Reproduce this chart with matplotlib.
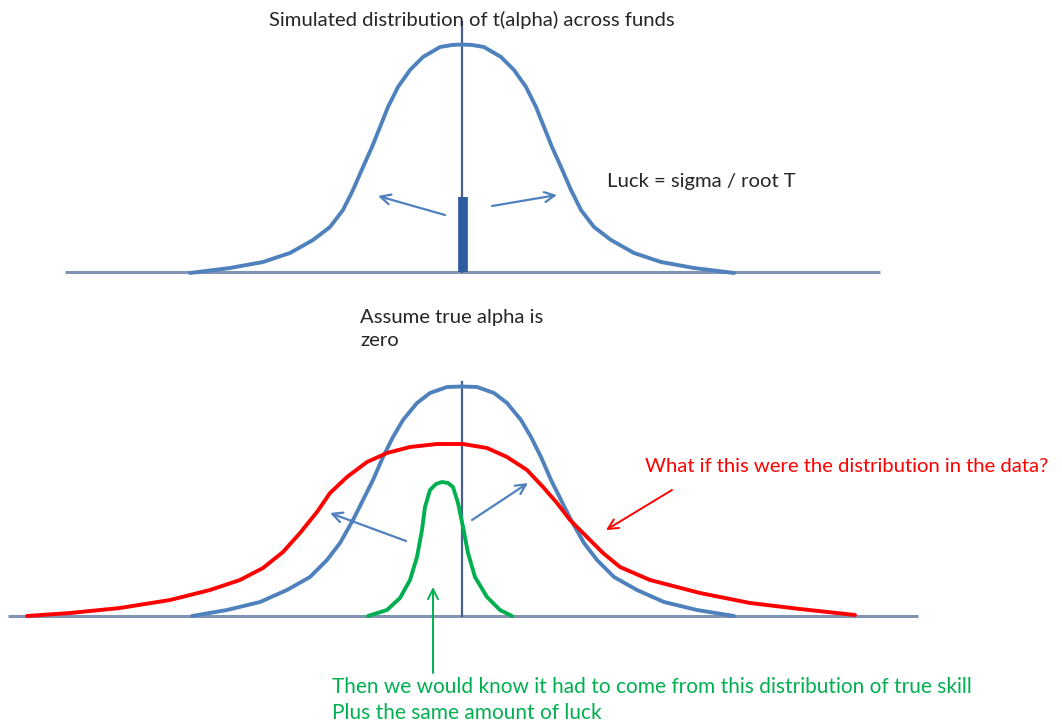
import matplotlib
matplotlib.use("Agg")
import matplotlib.pyplot as plt

W, H = 1062, 726

# Curves (pixel coordinates: x right, y down)
top_blue_x = [190, 230, 263, 290, 313, 330, 343, 353, 363, 372, 380, 388, 398, 410, 423, 440, 452, 462,
              472, 484, 501, 514, 526, 536, 544, 552, 561, 571, 581, 594, 611, 634, 661, 694, 734]
top_blue_y = [273, 268, 262, 253, 240, 227, 210, 190, 167, 147, 127, 107, 87, 70, 57, 47, 45, 44.5,
              45, 47, 57, 70, 87, 107, 127, 147, 167, 190, 210, 227, 240, 253, 262, 268, 273]

bot_blue_x = [192, 227, 260, 287, 310, 327, 340, 353, 363, 373, 383, 393, 403, 417, 430, 447, 462,
              477, 494, 507, 521, 531, 541, 551, 561, 571, 584, 597, 614, 637, 664, 697, 734]
bot_blue_y = [616, 610, 602, 590, 577, 560, 543, 520, 500, 480, 457, 437, 420, 403, 393, 387, 386.5,
              387, 393, 403, 420, 437, 457, 480, 500, 520, 543, 560, 577, 590, 602, 610, 616]

red_x = [27, 70, 120, 170, 210, 240, 263, 283, 300, 317, 330, 347, 367, 387, 410, 437, 463,
         487, 507, 527, 543, 557, 570, 587, 603, 620, 650, 700, 750, 800, 855]
red_y = [616, 613, 608, 600, 590, 580, 568, 552, 533, 512, 493, 477, 462, 453, 447, 444, 444,
         448, 457, 470, 487, 503, 520, 537, 553, 567, 580, 593, 603, 609, 615]

green_x = [368, 387, 400, 410, 417, 422, 425, 430, 436, 442, 448, 453, 458, 463, 468, 475, 487, 500, 512]
green_y = [616, 610, 598, 580, 557, 530, 507, 490, 484, 482, 483, 487, 503, 527, 553, 577, 597, 610, 616]

# Annotation texts
title_top = "Simulated distribution of t(alpha) across funds"
luck_text = "Luck = sigma / root T"
assume_text = "Assume true alpha is\nzero"
red_text = "What if this were the distribution in the data?"
green_text = "Then we would know it had to come from this distribution of true skill\nPlus the same amount of luck"

BLUE = "#4F81BD"
AXIS = "#8293B3"
VLINE = "#4A5F8C"
RED = "#FF0000"
GREEN = "#00B050"
TXT = "#262626"
FONT = ["Lato", "DejaVu Sans"]
FS = 14.6

fig = plt.figure(figsize=(W / 100, H / 100), dpi=100)
ax = fig.add_axes([0, 0, 1, 1])
ax.set_xlim(0, W)
ax.set_ylim(H, 0)
ax.axis("off")

# top panel
ax.plot([65, 880], [272, 272], color=AXIS, lw=2.2, solid_capstyle="butt")
ax.plot([462, 462], [22, 272], color=VLINE, lw=1.6)
ax.plot(top_blue_x, top_blue_y, color=BLUE, lw=2.8, solid_capstyle="round", solid_joinstyle="round")
ax.plot([462.5, 462.5], [197, 272], color="#2E5C9E", lw=7, solid_capstyle="butt")
for (x0, y0, x1, y1) in [(445, 215, 378, 196), (492, 206, 557, 195)]:
    ax.annotate("", xy=(x1, y1), xytext=(x0, y0),
                arrowprops=dict(arrowstyle="->", color=BLUE, lw=1.6,
                                mutation_scale=18, shrinkA=0, shrinkB=0))

# bottom panel
ax.plot([8, 918], [616, 616], color=AXIS, lw=2.2, solid_capstyle="butt")
ax.plot([462, 462], [382, 616], color=VLINE, lw=1.6)
ax.plot(bot_blue_x, bot_blue_y, color=BLUE, lw=2.8, solid_capstyle="round", solid_joinstyle="round")
ax.plot(red_x, red_y, color=RED, lw=2.8, solid_capstyle="round", solid_joinstyle="round")
ax.plot(green_x, green_y, color=GREEN, lw=2.8, solid_capstyle="round", solid_joinstyle="round")
for (x0, y0, x1, y1) in [(406, 541, 330, 513), (472, 520, 528, 483)]:
    ax.annotate("", xy=(x1, y1), xytext=(x0, y0),
                arrowprops=dict(arrowstyle="->", color=BLUE, lw=1.6,
                                mutation_scale=18, shrinkA=0, shrinkB=0))
ax.annotate("", xy=(606, 530), xytext=(672, 490),
            arrowprops=dict(arrowstyle="->", color=RED, lw=1.4,
                            mutation_scale=18, shrinkA=0, shrinkB=0))
ax.annotate("", xy=(433, 587), xytext=(433, 673),
            arrowprops=dict(arrowstyle="->", color=GREEN, lw=1.4,
                            mutation_scale=18, shrinkA=0, shrinkB=0))

# texts
ax.text(472, 20, title_top, ha="center", va="center", fontsize=FS, color=TXT, family=FONT)
ax.text(607, 182, luck_text, ha="left", va="center", fontsize=FS, color=TXT, family=FONT)
ax.text(360, 329, assume_text, ha="left", va="center", fontsize=FS, color=TXT,
        family=FONT, linespacing=1.5)
ax.text(332, 700, green_text, ha="left", va="center", fontsize=15, color=GREEN,
        family=FONT, linespacing=1.35)
ax.text(645, 467, red_text, ha="left", va="center", fontsize=FS, color=RED, family=FONT)

fig.savefig("out.png", dpi=100, facecolor="white")
